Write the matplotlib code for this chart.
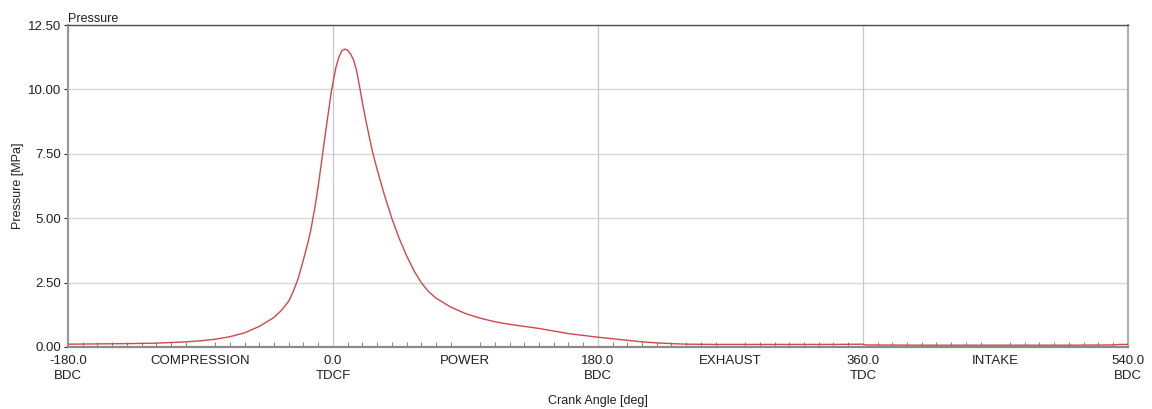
import matplotlib.pyplot as plt
from matplotlib.ticker import MultipleLocator, FixedLocator
import numpy as np

plt.rcParams['font.family'] = ['Liberation Sans', 'DejaVu Sans']

# crank angle [deg] and cylinder pressure [MPa]
crank_angle = [-180, -160, -140, -120, -100, -90, -80, -70, -60, -50, -40, -35, -30, -27,
               -24, -22, -20, -17, -15, -12, -10, -7, -4, -1, 2, 4, 6, 8, 10, 12, 14, 16,
               18, 20, 22, 24, 27, 30, 35, 40, 45, 50, 55, 60, 65, 70, 80, 90, 100, 110,
               120, 130, 140, 150, 160, 170, 180, 190, 200, 210, 220, 230, 240, 260, 300,
               340, 360, 362, 400, 450, 500, 530, 535, 540]
pressure = [0.11, 0.12, 0.13, 0.15, 0.20, 0.24, 0.30, 0.40, 0.55, 0.80, 1.15, 1.42, 1.78, 2.15,
            2.60, 2.98, 3.40, 4.05, 4.55, 5.50, 6.25, 7.50, 8.75, 9.95, 10.85, 11.25, 11.50,
            11.57, 11.52, 11.38, 11.15, 10.75, 10.15, 9.50, 8.90, 8.35, 7.55, 6.90, 5.90,
            5.00, 4.22, 3.55, 2.97, 2.50, 2.15, 1.90, 1.55, 1.30, 1.12, 0.98, 0.88, 0.80,
            0.72, 0.62, 0.52, 0.45, 0.38, 0.32, 0.26, 0.20, 0.16, 0.13, 0.11, 0.10, 0.10,
            0.10, 0.11, 0.08, 0.07, 0.07, 0.07, 0.08, 0.10, 0.10]

tick_pos = [-180, -90, 0, 90, 180, 270, 360, 450, 540]
tick_labels = ['-180.0\nBDC', 'COMPRESSION', '0.0\nTDCF', 'POWER', '180.0\nBDC',
               'EXHAUST', '360.0\nTDC', 'INTAKE', '540.0\nBDC']
grid_angles = [0, 180, 360]

fig = plt.figure(figsize=(11.52, 4.09), dpi=100)
ax = fig.add_axes([0.059, 0.1516, 0.920, 0.787])

for g in grid_angles:
    ax.axvline(g, color='#c8c8c8', lw=0.9, zorder=1)
ax.plot(crank_angle, pressure, color='#d04848', lw=1.0, zorder=3)

ax.set_xlim(-180, 540)
ax.set_ylim(0, 12.5)
ax.set_yticks(np.arange(0, 12.51, 2.5))
ax.set_yticklabels(['%.2f' % v for v in np.arange(0, 12.51, 2.5)])
ax.yaxis.grid(True, color='#d8d8d8', lw=1.0)
ax.set_axisbelow(True)

ax.xaxis.set_major_locator(FixedLocator(tick_pos))
ax.set_xticklabels(tick_labels)
ax.xaxis.set_minor_locator(MultipleLocator(10))
ax.tick_params(axis='x', which='major', direction='in', length=0, pad=6,
               labelsize=9.5, colors='#202020')
ax.tick_params(axis='x', which='minor', direction='in', length=3.5, color='#707070')
ax.tick_params(axis='y', which='major', direction='out', length=3, pad=2,
               labelsize=9.5, colors='#202020')
for lbl in ax.get_xticklabels():
    lbl.set_verticalalignment('top')
    lbl.set_linespacing(1.35)

ax.spines['left'].set_color('#9a9a9a')
ax.spines['left'].set_linewidth(1.6)
ax.spines['bottom'].set_color('#8a8a8a')
ax.spines['bottom'].set_linewidth(1.6)
ax.spines['top'].set_color('#505050')
ax.spines['top'].set_linewidth(1.0)
ax.spines['right'].set_color('#b0b0b0')
ax.spines['right'].set_linewidth(1.6)

ax.set_title('Pressure', loc='left', fontsize=9, pad=1, color='#202020')
ax.set_ylabel('Pressure [MPa]', fontsize=9, color='#202020', labelpad=3)
ax.set_xlabel('Crank Angle [deg]', fontsize=9, color='#202020', labelpad=9)

fig.savefig('out.png', dpi=100)
